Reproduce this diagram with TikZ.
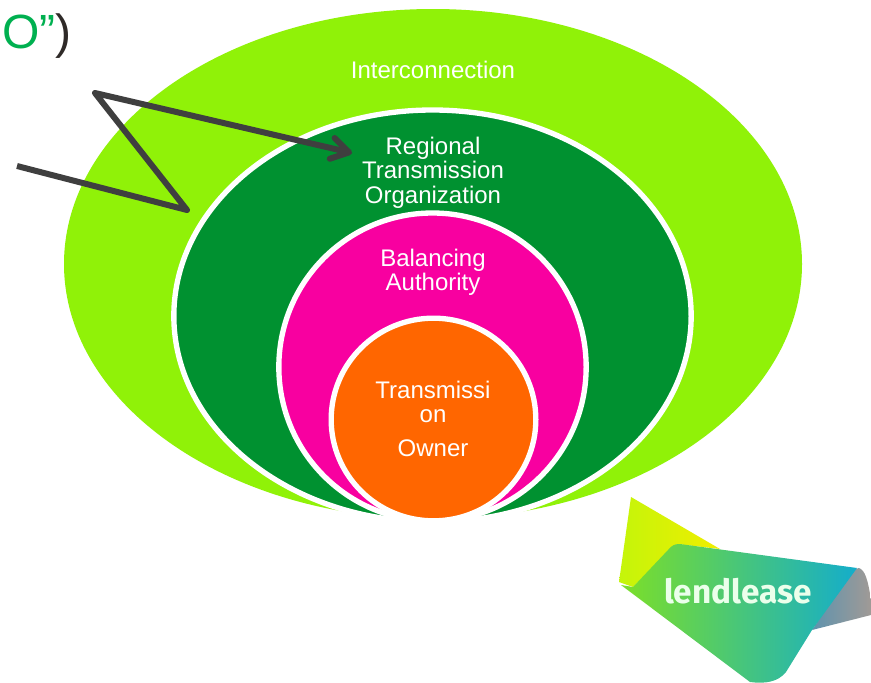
\documentclass[tikz,border=0pt]{standalone}
\usepackage{fontspec}
\setmainfont{Liberation Sans}
\newfontfamily\logofont{Fira Sans}
\usetikzlibrary{shapes.geometric,arrows.meta}
\definecolor{limeg}{HTML}{90F208}
\definecolor{darkg}{HTML}{009130}
\definecolor{magen}{HTML}{F800A0}
\definecolor{orang}{HTML}{FF6600}
\definecolor{arrowc}{HTML}{3F3F3F}
\definecolor{isog}{HTML}{00B050}
\definecolor{parenc}{HTML}{2F2A28}
\definecolor{flapa}{HTML}{C4F50A}
\definecolor{flapb}{HTML}{F0EE00}
\definecolor{maina}{HTML}{7CDF28}
\definecolor{mainb}{HTML}{3CCF6A}
\definecolor{mainc}{HTML}{14ADCB}
\definecolor{graya}{HTML}{5F93AE}
\definecolor{grayb}{HTML}{A09A96}
\tikzset{
  oval/.style={ellipse,draw=white,line width=4pt,inner sep=0pt,outer sep=0pt},
  lab/.style={text=white,font=\fontsize{18}{18.4}\selectfont,align=center,inner sep=0pt},
  zig/.style={draw=arrowc,line width=4.5pt,line join=round,-{Straight Barb[length=13pt,width=16pt,line width=4.5pt,round]}},
}
\begin{document}
\begin{tikzpicture}[x=0.75pt,y=-0.75pt]
\useasboundingbox (0,0) rectangle (871,682);
\fill[white] (0,0) rectangle (871,682);
\clip (0,0) rectangle (871,682);
% nested ovals
\node[oval,fill=limeg,draw=none,minimum width=553.5pt,minimum height=382.5pt] (inter) at (433,264) {};
\node[oval,fill=darkg,minimum width=388pt,minimum height=309pt] (rto) at (432.5,316) {};
\node[oval,fill=magen,minimum width=230.5pt,minimum height=231pt] (ba) at (432.5,367) {};
\node[oval,fill=orang,minimum width=153.5pt,minimum height=152pt] (to) at (433.5,419.5) {};
% labels
\node[lab] (tinter) at (433,70) {Interconnection};
\node[lab] (trto) at (433,172.5) {Regional\\Transmission\\Organization};
\node[lab] (tba) at (433,272.5) {Balancing\\Authority};
\node[lab] (tto) at (433,402) {Transmissi\\on};
\node[lab] (town) at (433,448) {Owner};
% title fragment
\node[anchor=east,inner sep=0pt,font=\fontsize{36}{36}\selectfont] (iso) at (72,36) {\textcolor{isog}{O”}\textcolor{parenc}{)}};
% zig-zag arrow
\coordinate (za) at (17,166);
\coordinate (zb) at (187,210);
\coordinate (zc) at (95,93);
\coordinate (zd) at (352,153);
\draw[zig] (za) -- (zb) -- (zc) -- (zd);
% logo
\path[left color=flapa,right color=flapb] (631,497) -- (720,549) -- (677,544) -- (633,587) -- (619,582) -- cycle;
\path[left color=graya,right color=grayb] (852,570) -- (859,568) .. controls (865,570) and (868,580) .. (871,600) -- (871,615) -- (812,630) -- cycle;
\path[left color=maina,middle color=mainb,right color=mainc] (621,585) -- (633,587) -- (668,550) .. controls (672,545) and (675,544) .. (680,544) -- (857,568) -- (812,630) -- (786,672) .. controls (778,682) and (765,684) .. (750,682) -- cycle;
\node[inner sep=0pt,text=white!92!green,font=\logofont\bfseries\fontsize{25}{25}\selectfont] (logo) at (738,591) {lendlease};
\end{tikzpicture}
\end{document}
